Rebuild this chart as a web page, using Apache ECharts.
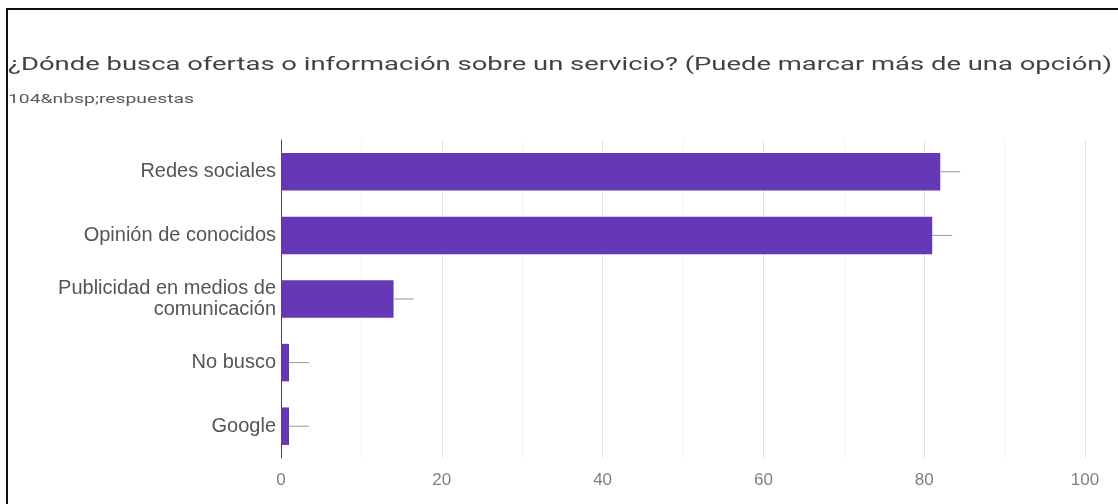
<!DOCTYPE html>
<html>
<head>
<meta charset="utf-8">
<script src="https://cdn.jsdelivr.net/npm/echarts@6/dist/echarts.min.js"></script>
<style>
  html, body { margin: 0; padding: 0; background: #fff; }
  #chart { width: 1118px; height: 504px; }
</style>
</head>
<body>
<div id="chart"></div>
<script>
// Survey answers: where people look for offers or information about a service
const titleText = '¿Dónde busca ofertas o información sobre un servicio? (Puede marcar más de una opción)';
const subtitleText = '104&nbsp;respuestas';
const categories = [
  'Redes sociales',
  'Opinión de conocidos',
  'Publicidad en medios de\ncomunicación',
  'No busco',
  'Google'
];
const counts = [82, 81, 14, 1, 1];
const axisTicks = [0, 20, 40, 60, 80, 100];

const barColor = '#6538b6';
const labelFont = 'Liberation Sans';

// heading text is drawn wide: stretch it to span the header line
const measureCtx = document.createElement('canvas').getContext('2d');
function widthOf(text, font) {
  measureCtx.font = font;
  return measureCtx.measureText(text).width;
}
const titleFont = '19px Roboto';
const subFont = '13px Roboto';
const titleScale = 1104 / widthOf(titleText, titleFont);
const subScale = 186 / widthOf(subtitleText, subFont);

const chart = echarts.init(document.getElementById('chart'), null, { renderer: 'canvas' });

chart.setOption({
  animation: false,
  backgroundColor: '#ffffff',
  textStyle: { fontFamily: labelFont },
  graphic: [
    { type: 'line', shape: { x1: 6, y1: 9, x2: 1118, y2: 9 }, style: { stroke: '#111', lineWidth: 2 } },
    { type: 'line', shape: { x1: 7, y1: 8, x2: 7, y2: 504 }, style: { stroke: '#111', lineWidth: 2 } },
    {
      type: 'text', x: 8, y: 65, scaleX: titleScale,
      style: { text: titleText, font: titleFont, fill: '#424242', textVerticalAlign: 'middle' }
    },
    {
      type: 'text', x: 8, y: 100, scaleX: subScale,
      style: { text: subtitleText, font: subFont, fill: '#5a5a5a', textVerticalAlign: 'middle' }
    }
  ],
  grid: { left: 281, right: 33, top: 140, bottom: 46, containLabel: false },
  xAxis: {
    type: 'value',
    min: axisTicks[0],
    max: axisTicks[axisTicks.length - 1],
    interval: 20,
    axisLine: { show: false },
    axisTick: { show: false },
    axisLabel: { color: '#808080', fontSize: 17, margin: 14, fontFamily: labelFont },
    splitLine: { show: true, lineStyle: { color: '#e4e4e4', width: 1 } },
    minorTick: { show: false, splitNumber: 2 },
    minorSplitLine: { show: true, lineStyle: { color: '#f2f2f2', width: 1 } }
  },
  yAxis: {
    type: 'category',
    data: categories,
    inverse: true,
    axisLine: { show: true, lineStyle: { color: '#444', width: 1 } },
    axisTick: { show: false },
    axisLabel: {
      color: '#555',
      fontSize: 20,
      margin: 5,
      lineHeight: 21,
      align: 'right',
      fontFamily: labelFont
    }
  },
  series: [
    {
      type: 'bar',
      data: counts,
      barCategoryGap: '41%',
      itemStyle: { color: barColor },
      z: 2
    },
    {
      // short grey whisker continuing each bar past its end
      type: 'custom',
      data: counts.map((v, i) => [v, i]),
      renderItem: function (params, api) {
        const end = api.coord([api.value(0), api.value(1)]);
        return {
          type: 'line',
          shape: { x1: end[0], y1: end[1], x2: end[0] + 20, y2: end[1] },
          style: { stroke: '#999', lineWidth: 1 }
        };
      },
      z: 3,
      silent: true
    }
  ]
});
</script>
</body>
</html>
